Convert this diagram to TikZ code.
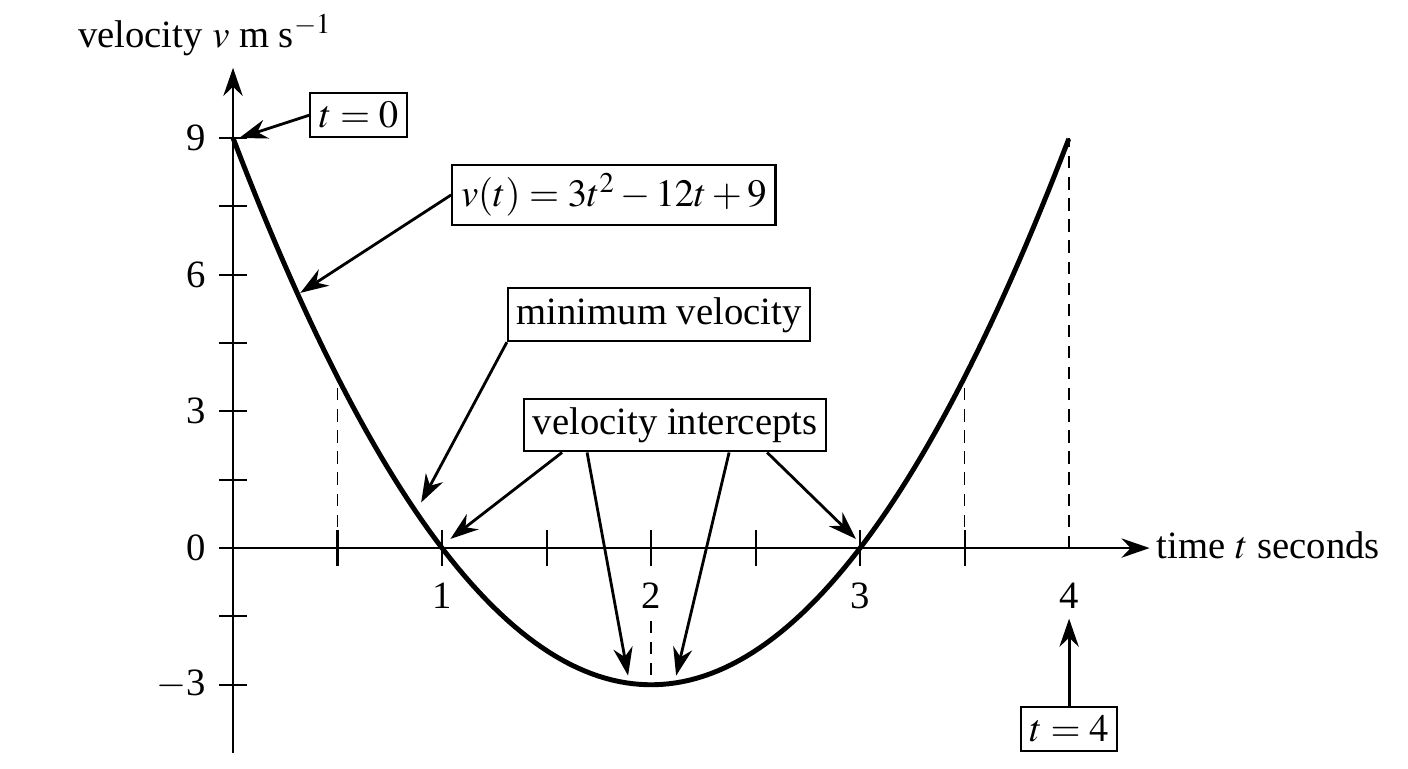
\documentclass[tikz,border=0pt]{standalone}
\usepackage{mathptmx}
\usepackage{fontspec}
\setmainfont{Liberation Serif}
\usetikzlibrary{arrows.meta}
\begin{document}
\begin{tikzpicture}[x=4.18cm,y=0.9112cm,>={Stealth[length=16pt,width=11pt]},
  font=\fontsize{22}{26}\selectfont,
  lbl/.style={draw,line width=1.2pt,inner sep=5pt,fill=white},
  pointer/.style={line width=1.6pt,->},
  guide/.style={dash pattern=on 7pt off 5pt,line width=1pt}]

%Fix the frame to the reference proportions
	\useasboundingbox (-1.1148,-4.8288) rectangle (5.6213,12.0281);

%Axes with their titles
	\draw[line width=1.4pt,->] (0,-4.5) -- (0,10.54) coordinate (vtop);
	\draw[line width=1.4pt,->] (0,0) -- (4.385,0) coordinate (tend);
	\node (vtitle) at (-0.135,11.25) {velocity $v$ m s$^{-1}$};
	\node[anchor=west] (ttitle) at (4.39,0.05) {time $t$ seconds};

%Ticks on the v axis, labelled every 3
	\foreach \v in {-3,-1.5,...,9}
		\draw[line width=1.2pt] (-0.065,\v) -- (0.065,\v);
	\foreach \v/\txt in {9/9,6/6,3/3,0/0,-3/$-$3}
		\node[anchor=east] (v\v) at (-0.1,\v) {\txt};

%Ticks on the t axis, labelled every 1
	\foreach \t in {0.5,1,...,3.5}
		\draw[line width=1.2pt] (\t,-0.4) -- (\t,0.4);
	\foreach \t in {1,2,3,4}
		\node (t\t) at (\t,-1.05) {\t};

%Dashed guide lines
	\draw[guide] (0.5,0) -- (0.5,3.75);
	\draw[guide] (3.5,0) -- (3.5,3.75);
	\draw[guide] (4,0) -- (4,9);
	\draw[guide] (2,-1.6) -- (2,-3);

%The velocity curve
	\draw[line width=2.8pt,domain=0:4,samples=120] plot (\x,{3*\x*\x-12*\x+9});

%Labels and their pointers
	\node[lbl] (start) at (0.601,9.5) {$t=0$};
	\node[lbl] (formula) at (1.822,7.75) {$v(t)=3t^2-12t+9$};
	\node[lbl] (minv) at (2.038,5.12) {minimum velocity};
	\node[lbl] (inter) at (2.115,2.7) {velocity intercepts};
	\node[lbl] (finish) at (4,-3.97) {$t=4$};
	\coordinate (pstart) at (0.03,9);
	\coordinate (pform) at (0.322,5.6);
	\coordinate (pmin) at (0.9,1.0);
	\coordinate (pa) at (1.04,0.2);
	\coordinate (pb) at (1.89,-2.8);
	\coordinate (pc) at (2.12,-2.8);
	\coordinate (pd) at (2.98,0.2);
	\coordinate (pend) at (4,-1.55);
	\draw[pointer] (start.west) -- (pstart);
	\draw[pointer] (formula.west) -- (pform);
	\draw[pointer] (minv.south west) -- (pmin);
	\draw[pointer] ([xshift=-2.26cm]inter.south) -- (pa);
	\draw[pointer] ([xshift=-1.76cm]inter.south) -- (pb);
	\draw[pointer] ([xshift=1.08cm]inter.south) -- (pc);
	\draw[pointer] ([xshift=1.84cm]inter.south) -- (pd);
	\draw[pointer] (finish.north) -- (pend);

\end{tikzpicture}
\end{document}
